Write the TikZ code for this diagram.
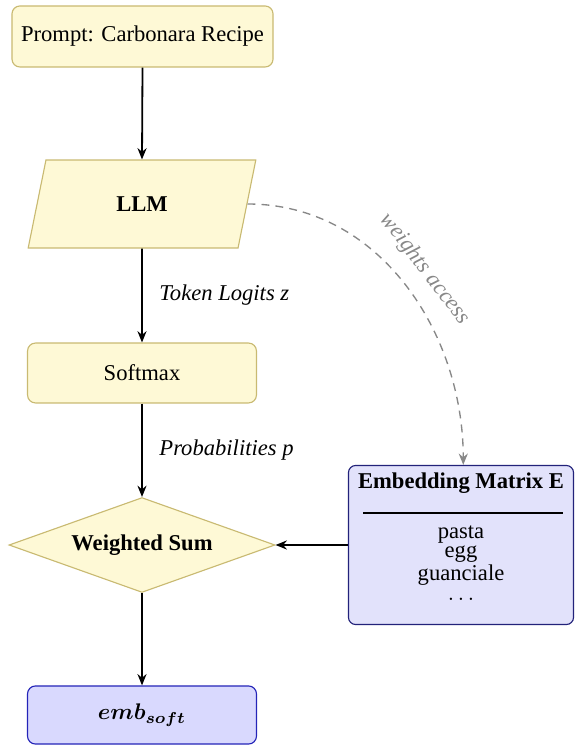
\documentclass[tikz,border=0pt]{standalone}
\usepackage{fontspec}
\setmainfont{Liberation Serif}
\usepackage{amsmath}
\usepackage{bm}
\usetikzlibrary{shapes.geometric,arrows.meta}

\definecolor{creamfill}{HTML}{FEF9D6}
\definecolor{creamedge}{HTML}{C9BA72}
\definecolor{lilacfill}{HTML}{E2E2FB}
\definecolor{lilacedge}{HTML}{22227A}
\definecolor{softfill}{HTML}{D9D9FE}
\definecolor{softedge}{HTML}{2424B8}
\definecolor{accessgray}{HTML}{888888}

\begin{document}
\begin{tikzpicture}[
  x=0.4425pt, y=-0.4425pt,
  stagebox/.style={draw=creamedge, fill=creamfill, line width=0.5pt,
    rounded corners=3.5pt, inner sep=2pt},
  modelbox/.style={trapezium, trapezium left angle=75, trapezium right angle=105,
    trapezium stretches=true, draw=creamedge, fill=creamfill, line width=0.5pt,
    minimum width=100.9pt, minimum height=38.9pt, inner sep=1pt, font=\bfseries},
  sumbox/.style={diamond, aspect=2.8, draw=creamedge, fill=creamfill, line width=0.5pt,
    minimum width=117.7pt, minimum height=42pt, inner sep=1pt, font=\bfseries},
  matrixbox/.style={draw=lilacedge, fill=lilacfill, line width=0.5pt,
    rounded corners=3.2pt, minimum width=99.6pt, minimum height=70.4pt, inner sep=0pt},
  resultbox/.style={draw=softedge, fill=softfill, line width=0.5pt,
    rounded corners=3.5pt, minimum width=101.3pt, minimum height=25.7pt, inner sep=2pt},
  flow/.style={-{Stealth[length=5pt,width=4pt]}, line width=0.8pt, black},
  access/.style={-{Stealth[length=5pt,width=4pt]}, line width=0.6pt, accessgray,
    dash pattern=on 3.5pt off 2.7pt},
  flowlabel/.style={font=\itshape, right=4pt},
]
\useasboundingbox (0,0) rectangle (574,745);

% main pipeline
\node[stagebox, minimum width=115.5pt, minimum height=27pt] (prompt) at (142.5,36.5) {Prompt: Carbonara Recipe};
\node[modelbox] (llm) at (142,204) {LLM};
\node[stagebox, minimum width=101.3pt, minimum height=26.5pt] (softmax) at (142,373) {Softmax};
\node[sumbox] (wsum) at (142,545) {Weighted Sum};
\node[resultbox] (embsoft) at (142,715) {$\boldsymbol{emb_{soft}}$};

% embedding matrix with its vocabulary
\node[matrixbox] (emat) at (461,545) {};
\node[font=\bfseries, inner sep=0pt] (ematTitle) at (461,483) {Embedding Matrix E};
\coordinate (ruleL) at (363,513);
\coordinate (ruleR) at (563,513);
\draw[line width=0.45pt] (ruleL) -- (ruleR);
\node[align=center, inner sep=0pt, font=\fontsize{10}{8.7}\selectfont] (ematVocab) at (461,563)
  {pasta\\egg\\guanciale\\$\ldots$};

% connectors
\draw[flow] (prompt.south) -- (llm.north);
\draw[flow] (llm.south) -- node[flowlabel] {Token Logits z} (softmax.north);
\draw[flow] (softmax.south) -- node[flowlabel] {Probabilities p} (wsum.north);
\draw[flow] (emat.west) -- (wsum.east);
\draw[flow] (wsum.south) -- (embsoft.north);
\draw[access] (llm.east) to[out=0, in=90]
  node[pos=0.5, sloped, above=3pt, font=\itshape, text=accessgray] {weights access}
  ([xshift=1pt]emat.north);
\end{tikzpicture}
\end{document}
